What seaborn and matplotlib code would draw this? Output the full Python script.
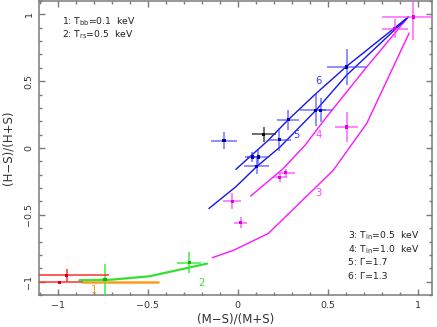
import numpy as np
import pandas as pd
import matplotlib
matplotlib.use("Agg")
import matplotlib.pyplot as plt
from matplotlib.ticker import MultipleLocator, FuncFormatter
import seaborn as sns

# ---------------- data ----------------
# model curves
c1_x = [-0.86, -0.44]
c1_y = [-1.005, -1.005]
c2_x = [-0.88, -0.70, -0.49, -0.17]
c2_y = [-0.99, -0.985, -0.96, -0.865]
c3_x = [-0.14, -0.024, 0.17, 0.531, 0.717, 0.953]
c3_y = [-0.82, -0.766, -0.64, -0.167, 0.183, 0.86]
c4_x = [0.072, 0.253, 0.374, 0.494, 0.717, 0.945]
c4_y = [-0.36, -0.154, 0.02, 0.232, 0.606, 0.975]
c5_x = [-0.16, -0.01, 0.105, 0.235, 0.435, 0.605, 0.948]
c5_y = [-0.453, -0.29, -0.14, 0.007, 0.282, 0.544, 0.98]
c6_x = [-0.01, 0.17, 0.28, 0.435, 0.605, 0.948]
c6_y = [-0.16, 0.058, 0.21, 0.407, 0.611, 0.98]

# data points
blue_x = [-0.076, 0.281, 0.231, 0.081, 0.114, 0.105, 0.605, 0.435, 0.461]
blue_y = [0.055, 0.212, 0.063, -0.067, -0.067, -0.137, 0.606, 0.282, 0.282]
blue_xe = [0.071, 0.061, 0.063, 0.04, 0.06, 0.07, 0.11, 0.09, 0.03]
blue_ye = [0.062, 0.074, 0.083, 0.04, 0.06, 0.06, 0.137, 0.12, 0.09]

black_x = [0.146]
black_y = [0.103]
black_xe = [0.068]
black_ye = [0.056]

mag_x = [0.976, 0.874, 0.605, -0.03, 0.017, 0.235, 0.267]
mag_y = [0.98, 0.894, 0.157, -0.40, -0.558, -0.22, -0.184]
mag_xe = [0.176, 0.074, 0.062, 0.05, 0.035, 0.04, 0.05]
mag_ye = [0.175, 0.07, 0.112, 0.06, 0.04, 0.035, 0.03]

green_x = [-0.737, -0.27]
green_y = [-0.985, -0.858]
green_xe_lo = [0.14, 0.065]
green_xe_hi = [0.02, 0.065]
green_ye = [0.12, 0.077]

red_x = [-0.95, -0.99]
red_y = [-0.953, -1.005]
red_xe_lo = [0.16, 0.12]
red_xe_hi = [0.235, 0.13]
red_ye = [0.05, 0.0]

x_ticks = [-1, -0.5, 0, 0.5, 1]
y_ticks = [-1, -0.5, 0, 0.5, 1]

# ---------------- style ----------------
sns.set_style("ticks")
plt.rcParams['font.family'] = ['DejaVu Sans']

fig = plt.figure(figsize=(4.37, 3.27), dpi=100)
ax = fig.add_axes([39/437, 1 - 295/327, (432-39)/437, (295-1)/327])

BLUE = '#1414f0'
MAG = '#ff14ff'
GREEN = '#33e033'
ORANGE = '#ff9a1a'
RED = '#ff2020'

def curve(xs, ys, color, lw):
    df = pd.DataFrame({'x': xs, 'y': ys})
    sns.lineplot(data=df, x='x', y='y', sort=False, estimator=None,
                 color=color, lw=lw, ax=ax, legend=False)

curve(c1_x, c1_y, ORANGE, 1.8)
curve(c2_x, c2_y, GREEN, 1.6)
curve(c3_x, c3_y, MAG, 1.0)
curve(c4_x, c4_y, MAG, 1.0)
curve(c5_x, c5_y, BLUE, 1.0)
curve(c6_x, c6_y, BLUE, 1.0)

def pts(xs, ys, xe, ye, ecolor, pcolor, alpha=0.6):
    ax.errorbar(xs, ys, xerr=xe, yerr=ye, fmt='none', ecolor=ecolor,
                elinewidth=1.3, alpha=alpha, capsize=0, zorder=3)
    df = pd.DataFrame({'x': xs, 'y': ys})
    sns.scatterplot(data=df, x='x', y='y', marker='s', s=5, color=pcolor,
                    edgecolor='none', ax=ax, zorder=4, legend=False)

pts(blue_x, blue_y, blue_xe, blue_ye, '#3a3aff', '#0000b0', 0.6)
pts(black_x, black_y, black_xe, black_ye, '#222222', '#000000', 0.7)
pts(mag_x, mag_y, mag_xe, mag_ye, '#ff44ff', '#e000e0', 0.7)
pts(green_x, green_y, [green_xe_lo, green_xe_hi], green_ye, '#33ee33', '#10b010', 0.8)
pts(red_x, red_y, [red_xe_lo, red_xe_hi], red_ye, '#ff3030', '#d00000', 0.85)

# ---------------- annotations ----------------
fs = 6.7
tc = '#202020'
ax.text(-0.978, 0.943, r'1: T$_{\rm bb}$=0.1  keV', fontsize=fs, color=tc, va='center')
ax.text(-0.978, 0.844, r'2: T$_{\rm rs}$=0.5  keV', fontsize=fs, color=tc, va='center')
ax.text(0.614, -0.653, r'3: T$_{\rm in}$=0.5  keV', fontsize=fs, color=tc, va='center')
ax.text(0.614, -0.760, r'4: T$_{\rm in}$=1.0  keV', fontsize=fs, color=tc, va='center')
ax.text(0.614, -0.855, '5: \u0393=1.7', fontsize=fs, color=tc, va='center')
ax.text(0.614, -0.958, '6: \u0393=1.3', fontsize=fs, color=tc, va='center')

lfs = 7.2
ax.text(0.448, 0.50, '6', color='#3a3aff', fontsize=lfs, ha='center', va='center')
ax.text(0.328, 0.095, '5', color='#3a3aff', fontsize=lfs, ha='center', va='center')
ax.text(0.448, 0.095, '4', color='#ff44ff', fontsize=lfs, ha='center', va='center')
ax.text(0.448, -0.337, '3', color='#ff44ff', fontsize=lfs, ha='center', va='center')
ax.text(-0.20, -1.01, '2', color=GREEN, fontsize=lfs, ha='center', va='center')
ax.text(-0.80, -1.06, '1', color=ORANGE, fontsize=lfs, ha='center', va='center')

# ---------------- axes ----------------
ax.set_xlim(-1.104, 1.08)
ax.set_ylim(-1.1, 1.1)
ax.set_xticks(x_ticks)
ax.set_yticks(y_ticks)
ax.xaxis.set_minor_locator(MultipleLocator(0.1))
ax.yaxis.set_minor_locator(MultipleLocator(0.1))
fmt = FuncFormatter(lambda v, p: ('%g' % v).replace('-', '\u2212'))
ax.xaxis.set_major_formatter(fmt)
ax.yaxis.set_major_formatter(fmt)

axcol = '#7a7a7a'
for s in ax.spines.values():
    s.set_visible(True)
    s.set_color(axcol)
    s.set_linewidth(1.1)
ax.tick_params(which='both', direction='in', top=True, right=True,
               color=axcol, width=1.0, labelsize=6.8, labelcolor='#333333')
ax.tick_params(which='major', length=4.5, pad=4)
ax.tick_params(which='minor', length=2.2)
for lbl in ax.get_yticklabels():
    lbl.set_rotation(90)
    lbl.set_va('center')

ax.set_xlabel('(M\u2212S)/(M+S)', fontsize=8.5, color='#333333', labelpad=2)
ax.set_ylabel('(H\u2212S)/(H+S)', fontsize=8.5, color='#333333', labelpad=7)

fig.savefig('out.png', dpi=100)
